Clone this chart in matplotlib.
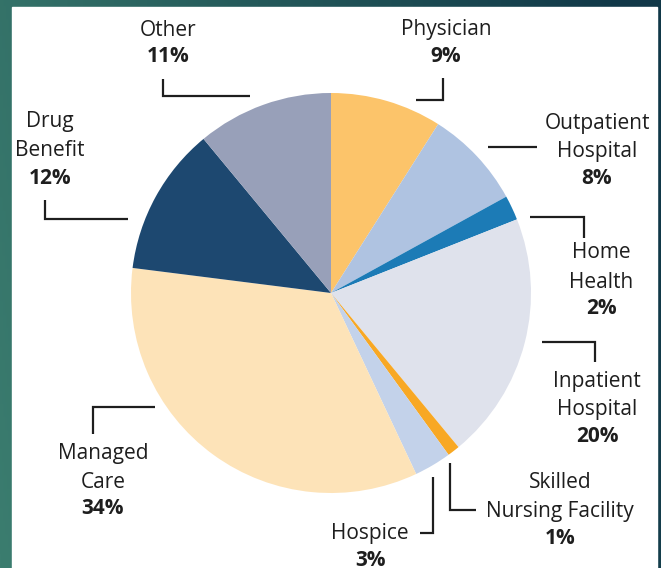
import matplotlib.pyplot as plt
from matplotlib.colors import LinearSegmentedColormap
import numpy as np

# Slices, clockwise from 12 o'clock
labels = ['Physician', 'Outpatient\nHospital', 'Home\nHealth', 'Inpatient\nHospital',
          'Skilled\nNursing Facility', 'Hospice', 'Managed\nCare', 'Drug\nBenefit', 'Other']
shares = [9, 8, 2, 20, 1, 3, 34, 12, 11]
colors = ['#FCC46A', '#AFC3E1', '#1C7BB6', '#DFE2EC', '#F8A824',
          '#C3D2EA', '#FDE3B8', '#1D4870', '#98A0B9']

W, H = 661, 568
FONT = ['Open Sans', 'DejaVu Sans']


def py(y):
    # pixel row (top-down) -> axes y (bottom-up)
    return H - y


fig = plt.figure(figsize=(W / 100, H / 100), dpi=100)

# teal gradient background, green on the left, dark on the right
bg = fig.add_axes([0, 0, 1, 1])
bg.axis('off')
grad = np.linspace(0, 1, 256)
gx, gy = np.meshgrid(grad, grad)
cmap = LinearSegmentedColormap.from_list('bg', ['#3b7d6f', '#24595a', '#113848'])
bg.imshow(np.clip(gx * 0.9 + gy * 0.15, 0, 1), cmap=cmap, extent=[0, 1, 0, 1],
          aspect='auto', origin='lower')

ax = fig.add_axes([0, 0, 1, 1])
ax.add_patch(plt.Rectangle((12, 0), 645, py(7), color='white', zorder=0))

ax.pie(shares, colors=colors, startangle=90, counterclock=False,
       center=(331, py(293)), radius=200, frame=True,
       wedgeprops=dict(linewidth=0))
ax.set_xlim(0, W)
ax.set_ylim(0, H)
ax.set_aspect('auto')
ax.axis('off')

# label anchor (centre x, first line y) and leader polylines in pixels
label_pos = [(446, 30), (597, 123), (601, 253), (597, 381), (560, 482),
             (370, 534), (103, 453), (50, 122), (168, 30)]
leaders = [
    [(416, 100), (443, 100), (443, 78)],
    [(488, 147), (537, 147)],
    [(530, 217), (584, 217), (584, 238)],
    [(542, 342), (595, 342), (595, 362)],
    [(450, 463), (450, 510), (476, 510)],
    [(433, 477), (433, 533), (420, 533)],
    [(155, 407), (93, 407), (93, 434)],
    [(45, 200), (45, 219), (128, 219)],
    [(163, 79), (163, 96), (250, 96)],
]

line_h = 29
for lab, pct, (x, y), pts in zip(labels, shares, label_pos, leaders):
    lines = lab.split('\n')
    for i, t in enumerate(lines):
        ax.text(x, py(y + i * line_h), t, ha='center', va='center',
                fontsize=15, color='#1e1e1e', family=FONT)
    ax.text(x, py(y + len(lines) * line_h - 2), '{}%'.format(pct), ha='center',
            va='center', fontsize=15, fontweight='bold', color='#1e1e1e',
            family=FONT)
    xs, ys = zip(*pts)
    ax.plot(xs, [py(v) for v in ys], color='#1e1e1e', lw=1.6,
            solid_capstyle='butt', solid_joinstyle='miter')

fig.savefig('out.png', dpi=100)
